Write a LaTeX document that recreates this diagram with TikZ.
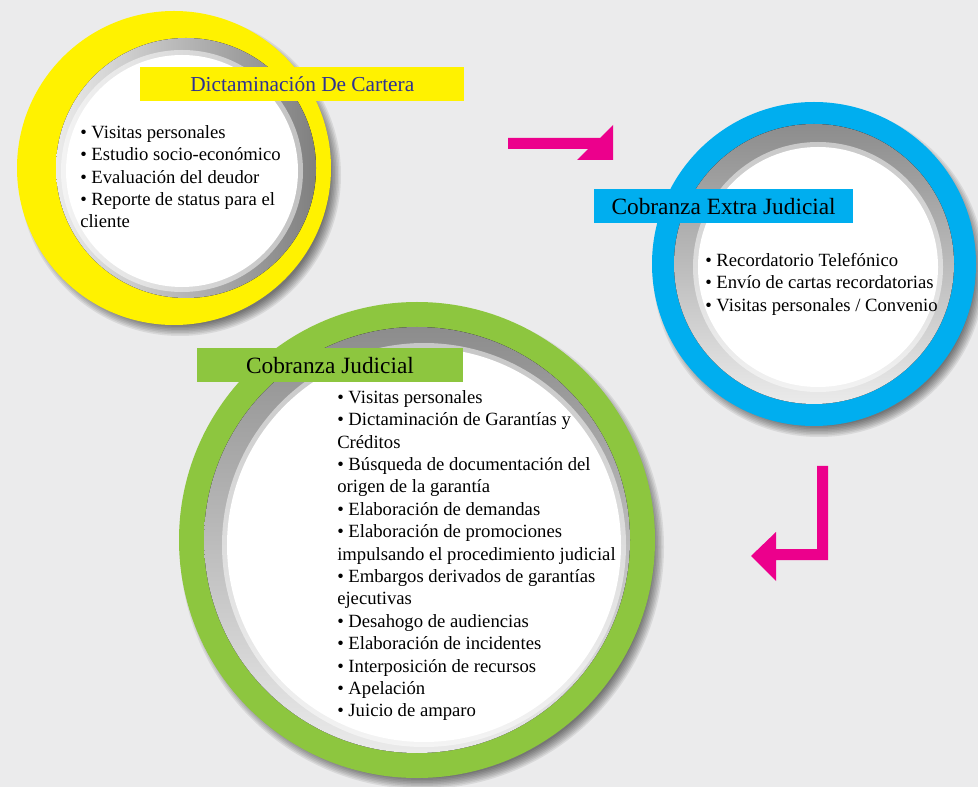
\documentclass[tikz,border=0pt]{standalone}
\usepackage{fontspec}
\setmainfont{Liberation Serif}
\usepackage{tikz}
\usetikzlibrary{positioning}
\definecolor{cBack}{HTML}{EBEBEC}
\definecolor{cYel}{HTML}{FFF200}
\definecolor{cCyan}{HTML}{00AEEF}
\definecolor{cLime}{HTML}{8DC63F}
\definecolor{cPink}{HTML}{EC008C}
\definecolor{cNavy}{HTML}{2E3192}

\begin{document}
\begin{tikzpicture}[
  x=0.75pt,y=-0.75pt,
  banner/.style={anchor=north west,inner sep=0pt,minimum height=25.5pt},
  items/.style={anchor=north west,inner sep=0pt,align=left,font=\fontsize{14}{16.8}\selectfont},
  shade/.style={black,opacity=.08},
  hole/.style={top color=black!45,middle color=black!16,bottom color=black!8},
  soft/.style={white,opacity=.5}
]
\fill[cBack] (0,0) rectangle (978,787);
\useasboundingbox (0,0) rectangle (978,787);
% yellow ring
\foreach \k in {1,...,8} \fill[shade] (180,175) circle (149+1.5*\k);
\fill[cYel] (174,168) circle (157);
\fill[left color=black!8,right color=black!50] (186,168) circle (130);
\fill[soft] (182,171) circle (121);
\fill[white] (182,171) circle (116);
% green ring
\foreach \k in {1,...,8} \fill[shade] (422,547) circle (230+1.5*\k);
\fill[cLime] (417,540) circle (238);
\fill[hole] (417,540) circle (213);
\fill[soft] (424,545) circle (202);
\fill[white] (424,545) circle (197);
% blue ring
\foreach \k in {1,...,8} \fill[shade] (819,271) circle (154+1.5*\k);
\fill[cCyan] (814,264) circle (162);
\fill[hole] (814,264) circle (140);
\fill[soft] (818,267) circle (125);
\fill[white] (818,267) circle (120);
% arrows
\fill[cPink] (508,138) -- (600,138) -- (613,125) -- (613,160) -- (577,160)
  -- (588,149) -- (508,149) -- cycle;
\fill[cPink] (828,466) -- (828,560) -- (776,560) -- (776,581) -- (751,556)
  -- (776,532) -- (776,549) -- (817,549) -- (817,466) -- cycle;
% banners
\node[banner,fill=cYel,minimum width=243pt,text=cNavy,font=\fontsize{16}{19}\selectfont]
     (h1) at (140,67) {Dictaminación De Cartera};
\node[banner,fill=cCyan,minimum width=194pt,font=\fontsize{17.5}{21}\selectfont]
     (h2) at (594,189) {Cobranza Extra Judicial};
\node[banner,fill=cLime,minimum width=199pt,font=\fontsize{17.5}{21}\selectfont]
     (h3) at (197,348) {Cobranza Judicial\hspace{5pt}};
% lists
\node[items] (l1) at (80,125) {• Visitas personales\\• Estudio socio-económico\\
  • Evaluación del deudor\\• Reporte de status para el\\cliente};
\node[items] (l2) at (705,253) {• Recordatorio Telefónico\\• Envío de cartas recordatorias\\
  • Visitas personales / Convenio};
\node[items] (l3) at (337,390) {• Visitas personales\\• Dictaminación de Garantías y\\Créditos\\
  • Búsqueda de documentación del\\origen de la garantía\\• Elaboración de demandas\\
  • Elaboración de promociones\\impulsando el procedimiento judicial\\
  • Embargos derivados de garantías\\ejecutivas\\• Desahogo de audiencias\\
  • Elaboración de incidentes\\• Interposición de recursos\\• Apelación\\• Juicio de amparo};
\end{tikzpicture}
\end{document}
